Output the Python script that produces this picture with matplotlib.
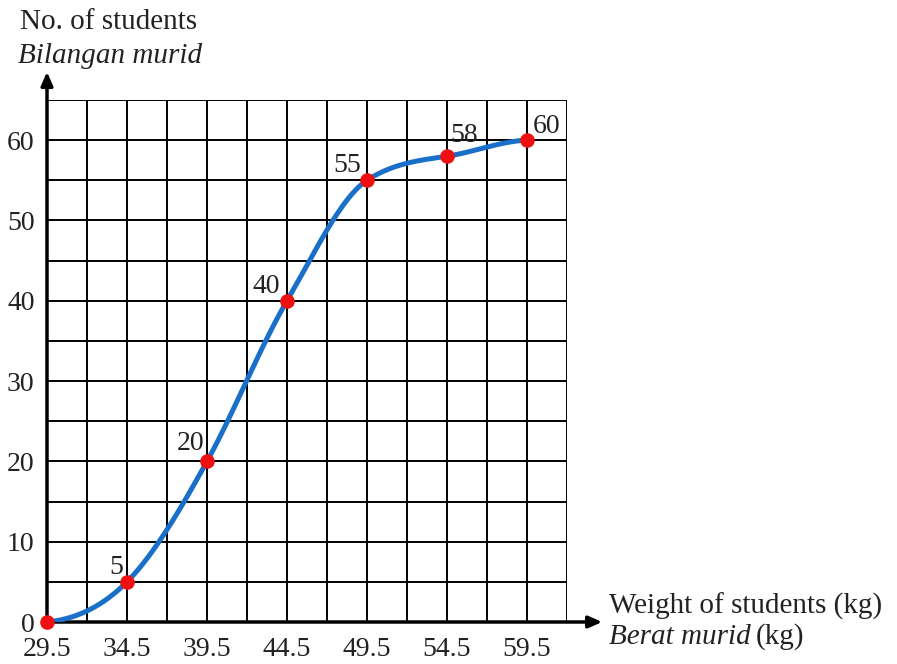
import matplotlib
matplotlib.use("Agg")
import matplotlib.pyplot as plt
import numpy as np

plt.rcParams['font.family'] = ['Liberation Serif', 'DejaVu Serif']

# cumulative frequency data (upper boundaries)
weights = [29.5, 34.5, 39.5, 44.5, 49.5, 54.5, 59.5]
students = [0, 5, 20, 40, 55, 58, 60]
xTickLabels = ["29.5", "34.5", "39.5", "44.5", "49.5", "54.5", "59.5"]
yTicks = [0, 10, 20, 30, 40, 50, 60]

# drawing style: label offsets (points) and curve tangents for the hand-drawn ogive look
labelOffsets = [None, (-8, 10), (-12, 13), (-15, 10), (-14, 11), (12, 15), (14, 10)]
curveSlopes = [0.2, 2.0, 3.6, 3.4, 1.3, 0.3, 0.08]

FS = 20
TXT = '#222222'


def hermiteCurve(x, y, m, xs):
    x = np.asarray(x, float)
    y = np.asarray(y, float)
    m = np.asarray(m, float)
    h = np.diff(x)
    idx = np.clip(np.searchsorted(x, xs) - 1, 0, len(x) - 2)
    t = (xs - x[idx]) / h[idx]
    h00 = 2 * t**3 - 3 * t**2 + 1
    h10 = t**3 - 2 * t**2 + t
    h01 = -2 * t**3 + 3 * t**2
    h11 = t**3 - t**2
    return h00 * y[idx] + h10 * h[idx] * m[idx] + h01 * y[idx + 1] + h11 * h[idx] * m[idx + 1]


fig = plt.figure(figsize=(8.97, 6.64), dpi=100)
ax = fig.add_axes([47 / 897, 1 - 622 / 664, 520 / 897, 522 / 664])
ax.set_xlim(29.5, 62)
ax.set_ylim(0, 65)

# grid
for gx in np.arange(29.5, 62.01, 2.5):
    ax.axvline(gx, color='black', lw=1.4, zorder=1)
for gy in np.arange(0, 65.01, 5):
    ax.axhline(gy, color='black', lw=1.4, zorder=1)

for s in ax.spines.values():
    s.set_visible(False)

# axes with arrows
arrowStyle = dict(arrowstyle='-|>,head_width=0.35,head_length=0.8', color='black', lw=2.5,
                  shrinkA=0, shrinkB=0)
ax.annotate('', xy=(64.2, 0), xytext=(29.5, 0), annotation_clip=False, arrowprops=arrowStyle, zorder=3)
ax.annotate('', xy=(29.5, 68.5), xytext=(29.5, 0), annotation_clip=False, arrowprops=arrowStyle, zorder=3)

xs = np.linspace(weights[0], weights[-1], 400)
ax.plot(xs, hermiteCurve(weights, students, curveSlopes, xs), color='#1a6fc8', lw=3.6, zorder=4,
        solid_capstyle='round')
ax.plot(weights, students, 'o', color='#ee1111', ms=9.5, zorder=5, clip_on=False)

for wx, sy, off in zip(weights, students, labelOffsets):
    if off is None:
        continue
    ax.annotate(str(sy), (wx, sy), xytext=off, textcoords='offset points',
                ha='center', va='center', fontsize=FS, color=TXT, zorder=6)

ax.set_xticks(weights)
ax.set_xticklabels(xTickLabels)
ax.set_yticks(yTicks)
ax.tick_params(length=0, labelsize=FS, colors=TXT)
ax.tick_params(axis='x', pad=11)
ax.tick_params(axis='y', pad=9)

fig.text(20 / 897, 1 - 22 / 664, 'No. of students', fontsize=21, va='center', ha='left', color=TXT)
fig.text(18 / 897, 1 - 56 / 664, 'Bilangan murid', fontsize=21, style='italic', va='center', ha='left',
         color=TXT)
fig.text(609 / 897, 1 - 606 / 664, 'Weight of students (kg)', fontsize=21, va='center', ha='left',
         color=TXT)
t = fig.text(609 / 897, 1 - 637 / 664, 'Berat murid', fontsize=21, style='italic', va='center', ha='left',
             color=TXT)
fig.canvas.draw()
bb = t.get_window_extent()
fig.text((bb.x1 + 5) / 897, 1 - 637 / 664, '(kg)', fontsize=21, va='center', ha='left', color=TXT)

fig.savefig('out.png', dpi=100)
